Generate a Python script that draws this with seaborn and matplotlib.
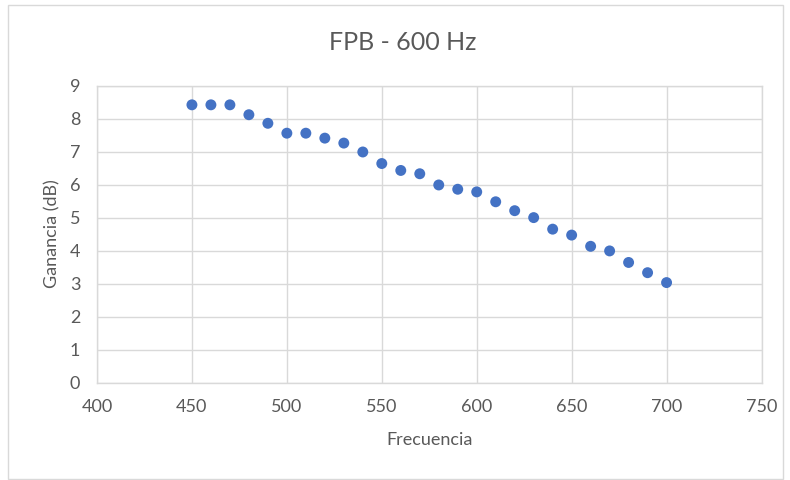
import matplotlib
matplotlib.use("Agg")
import matplotlib.pyplot as plt
import seaborn as sns
import pandas as pd
from matplotlib.patches import Rectangle

frecuencia = [450, 460, 470, 480, 490, 500, 510, 520, 530, 540, 550, 560, 570,
              580, 590, 600, 610, 620, 630, 640, 650, 660, 670, 680, 690, 700]
ganancia = [8.42, 8.42, 8.42, 8.12, 7.86, 7.56, 7.56, 7.41, 7.26, 6.99, 6.64, 6.43, 6.33,
            5.99, 5.86, 5.78, 5.48, 5.21, 5.00, 4.65, 4.47, 4.13, 3.99, 3.64, 3.33, 3.03]
x_ticks = [400, 450, 500, 550, 600, 650, 700, 750]
y_ticks = [0, 1, 2, 3, 4, 5, 6, 7, 8, 9]
title = "FPB - 600 Hz"
x_label = "Frecuencia"
y_label = "Ganancia (dB)"

df = pd.DataFrame({"Frecuencia": frecuencia, "Ganancia": ganancia})

sns.set_theme(style="white")
plt.rcParams['font.family'] = ['Lato', 'DejaVu Sans']

text_color = "#595959"
grid_color = "#d9d9d9"

fig = plt.figure(figsize=(7.9, 4.8), dpi=100)
fig.patch.set_facecolor("white")
# chart area border
fig.patches.append(Rectangle((8 / 790, 1 - 479 / 480), 775 / 790, 474 / 480,
                             transform=fig.transFigure, fill=False,
                             edgecolor=grid_color, linewidth=1))

ax = fig.add_axes([97 / 790, 1 - 382.5 / 480, 664.5 / 790, 296.8 / 480])
sns.scatterplot(data=df, x="Frecuencia", y="Ganancia", ax=ax, color="#4472C4",
                s=62, edgecolor="none", linewidth=0, zorder=3)

ax.set_xlim(400, 750)
ax.set_ylim(0, 9)
ax.set_xticks(x_ticks)
ax.set_yticks(y_ticks)
ax.grid(True, color=grid_color, linewidth=1)
ax.set_axisbelow(True)
for sp in ax.spines.values():
    sp.set_visible(True)
    sp.set_color(grid_color)
    sp.set_linewidth(1)
ax.tick_params(axis="both", length=0, labelsize=13, labelcolor=text_color)
ax.tick_params(axis="y", pad=12)
ax.tick_params(axis="x", pad=12)

ax.set_xlabel(x_label, fontsize=13, color=text_color, labelpad=12)
ax.set_ylabel(y_label, fontsize=13, color=text_color, labelpad=7)
fig.text(403 / 790, 1 - 42 / 480, title, ha="center", va="center",
         fontsize=18, color=text_color)

fig.savefig("out.png", dpi=100, facecolor="white")
